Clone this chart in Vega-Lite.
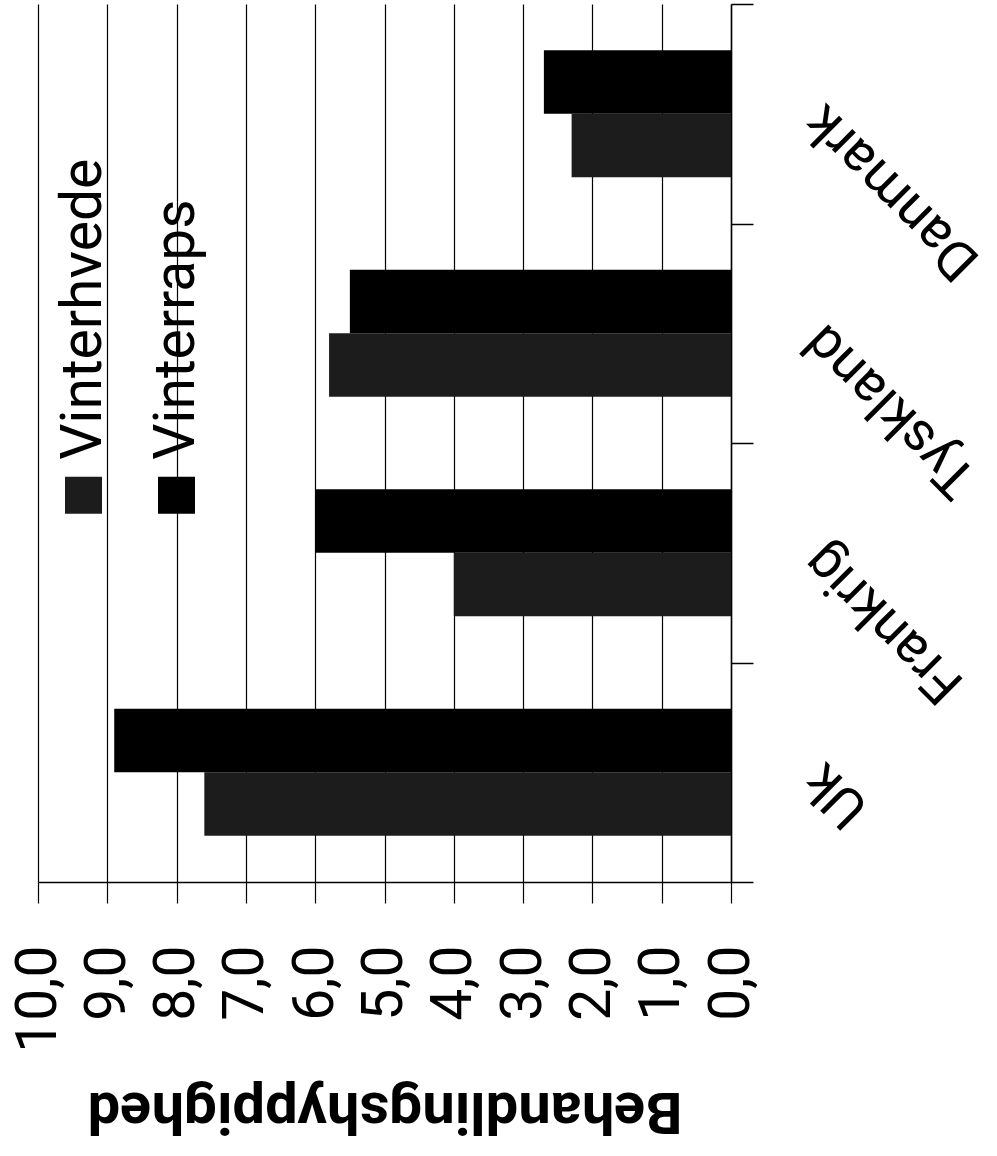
{
  "$schema": "https://vega.github.io/schema/vega-lite/v6.json",
  "width": 693,
  "height": 878,
  "autosize": {"type": "none"},
  "padding": {"left": 38, "top": 4, "right": 266, "bottom": 274},
  "background": "white",
  "config": {"view": {"stroke": null}, "font": "Roboto"},
  "data": {
    "values": [
      {"land": "Uk", "afgroede": "Vinterhvede", "vaerdi": 7.6},
      {"land": "Uk", "afgroede": "Vinterraps", "vaerdi": 8.9},
      {"land": "Frankrig", "afgroede": "Vinterhvede", "vaerdi": 4.0},
      {"land": "Frankrig", "afgroede": "Vinterraps", "vaerdi": 6.0},
      {"land": "Tyskland", "afgroede": "Vinterhvede", "vaerdi": 5.8},
      {"land": "Tyskland", "afgroede": "Vinterraps", "vaerdi": 5.5},
      {"land": "Danmark", "afgroede": "Vinterhvede", "vaerdi": 2.3},
      {"land": "Danmark", "afgroede": "Vinterraps", "vaerdi": 2.7}
    ]
  },
  "mark": {"type": "bar"},
  "encoding": {
    "y": {
      "field": "land",
      "type": "nominal",
      "sort": ["Danmark", "Tyskland", "Frankrig", "Uk"],
      "scale": {"paddingInner": 0, "paddingOuter": 0},
      "axis": {
        "orient": "right",
        "title": null,
        "grid": false,
        "tickBand": "extent",
        "tickSize": 22,
        "tickColor": "#000",
        "tickWidth": 1.5,
        "domainColor": "#000",
        "domainWidth": 1.5,
        "labelAngle": -135,
        "labelAlign": "right",
        "labelBaseline": "middle",
        "labelFont": "Roboto",
        "labelFontSize": 55,
        "labelColor": "#000",
        "labelPadding": 60,
        "labelLimit": 0
      }
    },
    "yOffset": {
      "field": "afgroede",
      "type": "nominal",
      "scale": {"domain": ["Vinterraps", "Vinterhvede"], "paddingInner": 0, "paddingOuter": 0.728}
    },
    "x": {
      "field": "vaerdi",
      "type": "quantitative",
      "scale": {"domain": [0, 10], "reverse": true, "nice": false},
      "axis": {
        "orient": "bottom",
        "values": [0, 1, 2, 3, 4, 5, 6, 7, 8, 9, 10],
        "grid": true,
        "gridColor": "#000",
        "gridWidth": 1.2,
        "gridOpacity": 1,
        "domainColor": "#000",
        "domainWidth": 1.5,
        "tickColor": "#000",
        "tickWidth": 1.2,
        "tickSize": 21,
        "labelAngle": -90,
        "labelFont": "Roboto",
        "labelFontSize": 57,
        "labelColor": "#000",
        "labelPadding": 42,
        "labelOverlap": false,
        "labelFlush": false,
        "labelExpr": "replace(format(datum.value, '.1f'), '.', ',')",
        "title": "Behandlingshyppighed",
        "titleAngle": 180,
        "titleFont": "Roboto",
        "titleFontSize": 58,
        "titleFontWeight": "bold",
        "titleColor": "#000",
        "titleAlign": "center",
        "titleBaseline": "bottom",
        "titlePadding": 28
      }
    },
    "color": {
      "field": "afgroede",
      "type": "nominal",
      "scale": {"domain": ["Vinterhvede", "Vinterraps"], "range": ["#1c1c1c", "#000000"]},
      "legend": {
        "orient": "none",
        "legendX": 25.5,
        "legendY": 471,
        "direction": "horizontal",
        "title": null,
        "padding": 0,
        "symbolType": "square",
        "symbolSize": 1369,
        "symbolStrokeWidth": 0,
        "labelFont": "Roboto",
        "labelFontSize": 57,
        "labelColor": "#000",
        "labelLimit": 0,
        "columnPadding": 35,
        "encode": {
          "symbols": {"update": {"x": {"value": 20}, "y": {"value": 20}}},
          "labels": {
            "update": {
              "x": {"value": 20},
              "y": {"value": -15.5},
              "angle": {"value": -90},
              "align": {"value": "left"},
              "baseline": {"value": "middle"}
            }
          }
        }
      }
    }
  }
}
